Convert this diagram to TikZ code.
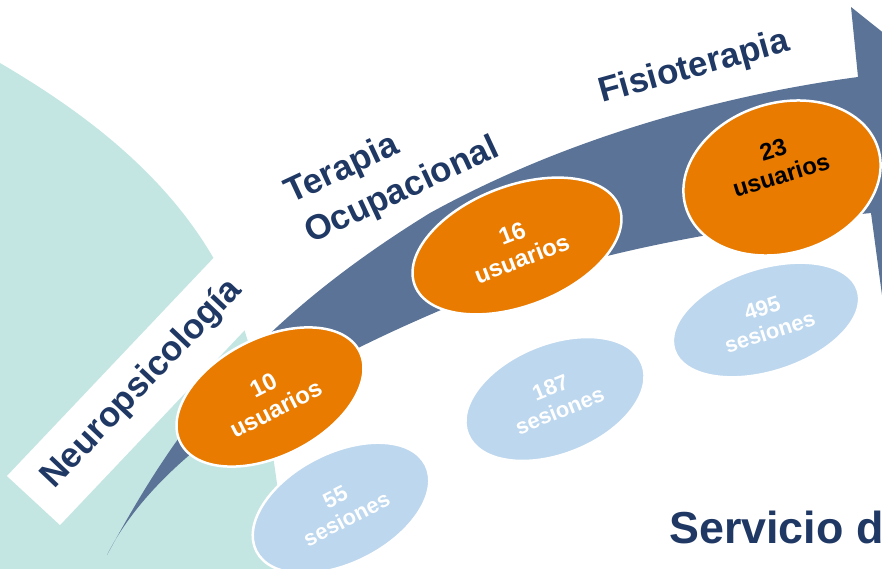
\documentclass[tikz,border=0pt]{standalone}
\usepackage{fontspec}
\setmainfont{Liberation Sans}
\usepackage{tikz}
\usetikzlibrary{shapes.geometric}
\definecolor{navy}{HTML}{1F3864}
\definecolor{swoosh}{HTML}{5A7396}
\definecolor{naranja}{HTML}{E87B00}
\definecolor{celeste}{HTML}{BDD7EE}
\definecolor{menta}{HTML}{C4E6E3}
\tikzstyle{usuarios}=[ellipse,fill=naranja,draw=white,line width=2.5bp,inner sep=0pt,align=center,text=white,font=\fontsize{24}{27}\selectfont\bfseries]
\tikzstyle{sesiones}=[usuarios,fill=celeste,font=\fontsize{22}{25}\selectfont\bfseries]
\tikzstyle{area}=[inner sep=0pt,text=navy,font=\fontsize{35}{40}\selectfont\bfseries]

\begin{document}
\begin{tikzpicture}[x=1bp,y=-1bp]
        \useasboundingbox (0,0) rectangle (882,569);
        \clip (0,0) rectangle (882,569);
        \fill[menta] (0,63) .. controls (80,110) and (180,180) .. (230,290) .. controls (255,350) and (278,450) .. (285,569) -- (0,569) -- cycle;
        \fill[white] (7,476) -- (60,525) -- (349,220) -- (296,171) -- cycle;
        \fill[swoosh] (107,555) .. controls (170,440) and (240,330) .. (430,213) .. controls (590,125) and (760,90) .. (858,77) -- (851,7) -- (975,106) -- (888,340) -- (871,213) .. controls (700,230) and (560,260) .. (441,310) .. controls (300,370) and (160,450) .. (107,555) -- cycle;
        \node[usuarios,minimum width=201bp,minimum height=118bp,rotate=27] (u10) at (270,397) {10\\usuarios};
        \node[usuarios,minimum width=219bp,minimum height=120bp,rotate=21] (u16) at (517,246) {16\\usuarios};
        \node[usuarios,text=black,minimum width=201bp,minimum height=150bp,rotate=17] (u23) at (782,178) {23\\usuarios\\[6bp]};
        \node[sesiones,minimum width=190bp,minimum height=110bp,rotate=27] (s55) at (341,508) {55\\sesiones};
        \node[sesiones,minimum width=188bp,minimum height=110bp,rotate=22] (s187) at (555,399) {187\\sesiones};
        \node[sesiones,minimum width=193bp,minimum height=103bp,rotate=18] (s495) at (766,320) {495\\sesiones};
        \node[area,rotate=46.5] (neuro) at (142,384) {Neuropsicología};
        \node[area,rotate=25,anchor=base west] (terapia) at (291,204) {Terapia};
        \node[area,rotate=25,anchor=base west] (ocupacional) at (311,244) {Ocupacional};
        \node[area,rotate=15.5,anchor=base west] (fisio) at (602,103) {Fisioterapia};
        \node[area,font=\fontsize{45}{54}\selectfont\bfseries,anchor=base west] (servicio) at (669,543) {Servicio d};
      \end{tikzpicture}
\end{document}
